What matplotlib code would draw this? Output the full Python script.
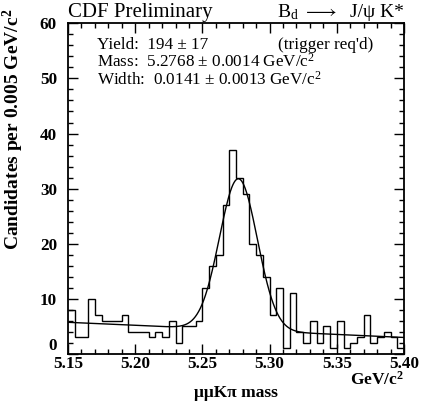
import numpy as np
import matplotlib
matplotlib.use("Agg")
import matplotlib.pyplot as plt
from matplotlib.ticker import MultipleLocator, FixedLocator

plt.rcParams['font.family'] = ['Liberation Serif', 'DejaVu Serif']
plt.rcParams['mathtext.fontset'] = 'custom'
plt.rcParams['mathtext.rm'] = 'Liberation Serif'
plt.rcParams['mathtext.it'] = 'Liberation Serif:italic'
plt.rcParams['mathtext.bf'] = 'Liberation Serif:bold'
plt.rcParams['mathtext.default'] = 'regular'

# Histogram: 50 bins of 0.005 GeV/c^2 between 5.15 and 5.40
x_lo, x_hi, bin_w = 5.15, 5.40, 0.005
counts = [8, 3, 3, 10, 7, 6, 6, 6, 7, 4,
          4, 4, 3, 4, 3, 6, 2, 5, 5, 6,
          12, 16, 18, 27, 37, 32, 29, 20, 18, 14,
          7, 12, 1, 11, 4, 2, 6, 2, 5, 1,
          6, 1, 2, 3, 7, 2, 3, 4, 3, 1]

# Fit result: Gaussian signal + linear background
fit_yield = 194
fit_yield_err = 17
fit_mass = 5.2768
fit_mass_err = 0.0014
fit_width = 0.0141
fit_width_err = 0.0013
bkg_at_lo = 5.75
bkg_at_hi = 3.0

x_ticks = [5.15, 5.20, 5.25, 5.30, 5.35, 5.40]
y_ticks = [0, 10, 20, 30, 40, 50, 60]

W, H = 421, 407
fig = plt.figure(figsize=(W / 100, H / 100), dpi=100)


def fx(px):
    return px / W


def fy(py):
    return 1 - py / H


ax_l, ax_r, ax_t, ax_b = 68, 404, 23.3, 354
ax = fig.add_axes([fx(ax_l), fy(ax_b), fx(ax_r - ax_l), (ax_b - ax_t) / H])

edges = np.linspace(x_lo, x_hi, len(counts) + 1)
ax.stairs(counts, edges, color='black', lw=1.0, baseline=None)

xs = np.linspace(x_lo, x_hi, 600)
gauss = fit_yield * bin_w / (np.sqrt(2 * np.pi) * fit_width) * \
    np.exp(-0.5 * ((xs - fit_mass) / fit_width) ** 2)
bkg = bkg_at_lo + (bkg_at_hi - bkg_at_lo) * (xs - x_lo) / (x_hi - x_lo)
ax.plot(xs, gauss + bkg, color='black', lw=1.0)

ax.set_xlim(x_lo, x_hi)
ax.set_ylim(0, 60)
ax.xaxis.set_major_locator(FixedLocator(x_ticks))
ax.xaxis.set_minor_locator(MultipleLocator(0.01))
ax.yaxis.set_major_locator(FixedLocator(y_ticks))
ax.yaxis.set_minor_locator(MultipleLocator(2))
ax.set_xticklabels([f"{t:.2f}" for t in x_ticks])
ax.set_yticklabels([str(t) for t in y_ticks])
ax.tick_params(which='both', direction='in', top=True, right=True, width=1.0)
ax.tick_params(which='major', length=7)
ax.tick_params(which='minor', length=3.5)
ax.tick_params(axis='x', which='major', pad=1.5, labelsize=12.3)
ax.tick_params(axis='y', which='major', pad=8, labelsize=12.3)
for lab in ax.get_xticklabels() + ax.get_yticklabels():
    lab.set_fontweight('bold')
ax.get_yticklabels()[0].set_va('bottom')
for s in ax.spines.values():
    s.set_linewidth(1.3)

# Titles and annotations
fig.text(fx(68), fy(16.7), 'CDF Preliminary', fontsize=15,
         ha='left', va='baseline')
# Decay channel, drawn in three pieces: B_d, arrow, J/psi K*
fig.text(fx(277), fy(17), r'B$_{d}$', fontsize=14,
         ha='left', va='baseline')
fig.text(fx(320), fy(17), r'$\longrightarrow$', fontsize=14,
         ha='center', va='baseline')
fig.text(fx(404), fy(17), 'J/ψ K*', fontsize=14,
         ha='right', va='baseline')

info_x = 97
info_fs = 12.3
fig.text(fx(info_x), fy(49), f'Yield:  {fit_yield} ± {fit_yield_err}',
         fontsize=info_fs, ha='left', va='baseline')
fig.text(fx(278), fy(49), "(trigger req'd)", fontsize=info_fs,
         ha='left', va='baseline')
fig.text(fx(info_x), fy(66.7),
         f'Mass:  {fit_mass:.4f} ± {fit_mass_err:.4f} GeV/c$^2$',
         fontsize=info_fs, ha='left', va='baseline')
fig.text(fx(info_x), fy(85),
         f'Width:  {fit_width:.4f} ± {fit_width_err:.4f} GeV/c$^2$',
         fontsize=info_fs, ha='left', va='baseline')

fig.text(fx(13), fy(9), 'Candidates per 0.005 GeV/c$^2$',
         fontsize=14, fontweight='bold', rotation=90, ha='center', va='top')
fig.text(fx(404), fy(385), 'GeV/c$^2$', fontsize=12.5, fontweight='bold',
         ha='right', va='baseline')
fig.text(fx(236), fy(397), 'μμKπ mass', fontsize=12.5, fontweight='bold',
         ha='center', va='baseline')

fig.savefig('out.png', dpi=100)
